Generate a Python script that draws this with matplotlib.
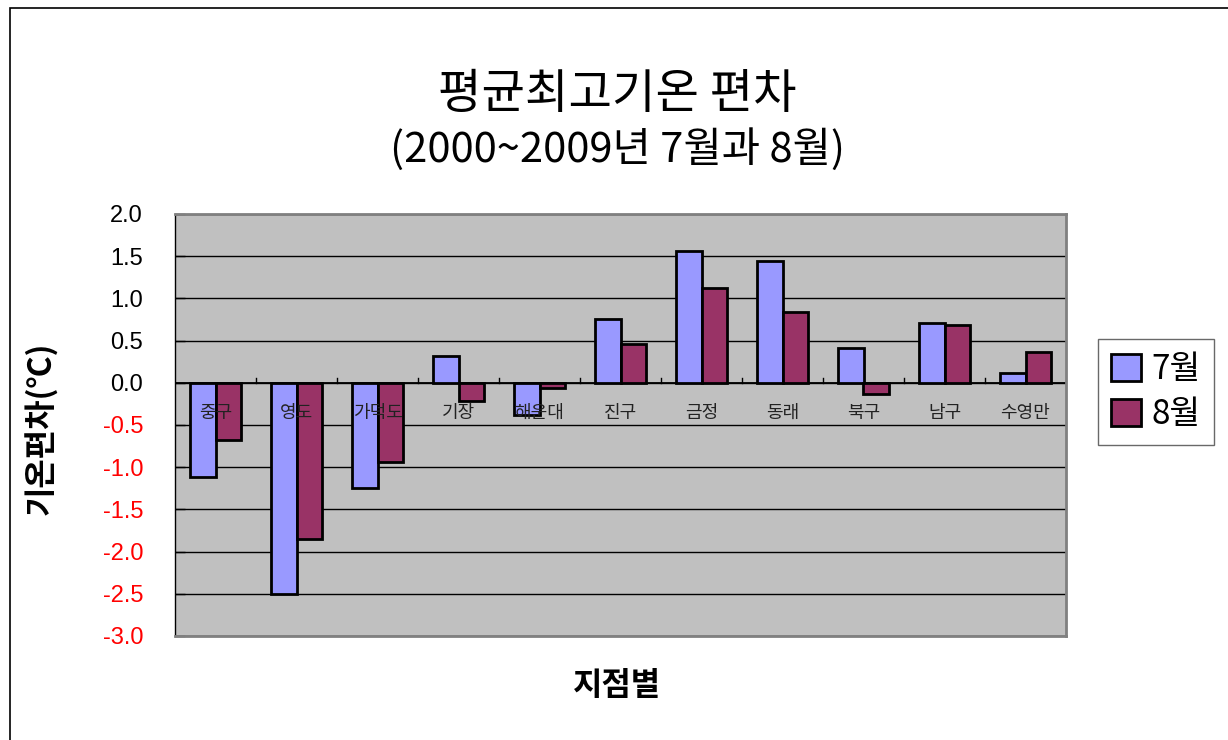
import matplotlib
matplotlib.use("Agg")
import matplotlib.pyplot as plt
import numpy as np
from matplotlib.patches import Rectangle

plt.rcParams['font.family'] = ['Noto Sans CJK KR', 'DejaVu Sans']

categories = ['중구', '영도', '가덕도', '기장', '해운대', '진구', '금정', '동래', '북구', '남구', '수영만']
july = [-1.12, -2.50, -1.25, 0.32, -0.38, 0.75, 1.56, 1.44, 0.41, 0.71, 0.12]
august = [-0.68, -1.85, -0.94, -0.22, -0.06, 0.46, 1.12, 0.84, -0.13, 0.68, 0.37]
series_names = ['7월', '8월']
yticks = [2.0, 1.5, 1.0, 0.5, 0.0, -0.5, -1.0, -1.5, -2.0, -2.5, -3.0]

fig = plt.figure(figsize=(12.28, 7.40), dpi=100)
fig.patch.set_facecolor('white')

# figure border
fig.add_artist(Rectangle((10/1228, -0.05), 1.1, 1 - 8/740 + 0.05, transform=fig.transFigure,
                         fill=False, edgecolor='black', linewidth=1.2))

ax = fig.add_axes([175/1228, 1 - 636/740, (1066 - 175)/1228, (636 - 214)/740])
ax.set_facecolor('#C0C0C0')

x = np.arange(len(categories))
w = 0.31
b1 = ax.bar(x - w/2, july, w, color='#9999FF', edgecolor='black', linewidth=2, zorder=3, label=series_names[0])
b2 = ax.bar(x + w/2, august, w, color='#993366', edgecolor='black', linewidth=2, zorder=3, label=series_names[1])

ax.set_xlim(-0.5, len(categories) - 0.5)
ax.set_ylim(-3.0, 2.0)
ax.set_yticks(yticks)
ax.set_yticklabels([f'{v:.1f}' for v in yticks], fontsize=17, family=['Liberation Sans'])
for lab, v in zip(ax.get_yticklabels(), yticks):
    lab.set_color('red' if v < 0 else 'black')
ax.tick_params(axis='y', direction='in', length=7, width=1, pad=23)
ax.set_xticks([])
ax.grid(axis='y', color='black', linewidth=1, zorder=1)
ax.axhline(0, color='black', linewidth=1.3, zorder=2)
for i in range(1, len(categories)):
    ax.plot([i - 0.5, i - 0.5], [0, 0.06], color='black', linewidth=1, zorder=2)

for s in ['top', 'right', 'bottom']:
    ax.spines[s].set_color('#808080')
    ax.spines[s].set_linewidth(2)
ax.spines['left'].set_color('black')
ax.spines['left'].set_linewidth(1)

for i, c in enumerate(categories):
    ax.text(i, -0.355, c, ha='center', va='center', fontsize=13, color='#222222', zorder=4)

fig.text(0.5025, 1 - 95/740, '평균최고기온 편차', ha='center', va='center', fontsize=34)
fig.text(0.5025, 1 - 150/740, '(2000~2009년 7월과 8월)', ha='center', va='center', fontsize=30)
fig.text(42/1228, 1 - 428/740, '기온편차(℃)', ha='center', va='center', rotation=90,
         fontsize=23, fontweight='bold')
fig.text(617/1228, 1 - 686/740, '지점별', ha='center', va='center', fontsize=23, fontweight='bold')

leg = fig.legend(handles=[b1, b2], labels=series_names, loc='center',
                 bbox_to_anchor=(1156/1228, 1 - 392/740), fontsize=24, frameon=True,
                 fancybox=False, edgecolor='#444444', handlelength=0.9, handleheight=0.9,
                 handletextpad=0.3, labelspacing=0.3, borderpad=0.4)
leg.get_frame().set_linewidth(1)

fig.savefig('out.png', dpi=100, facecolor='white')
